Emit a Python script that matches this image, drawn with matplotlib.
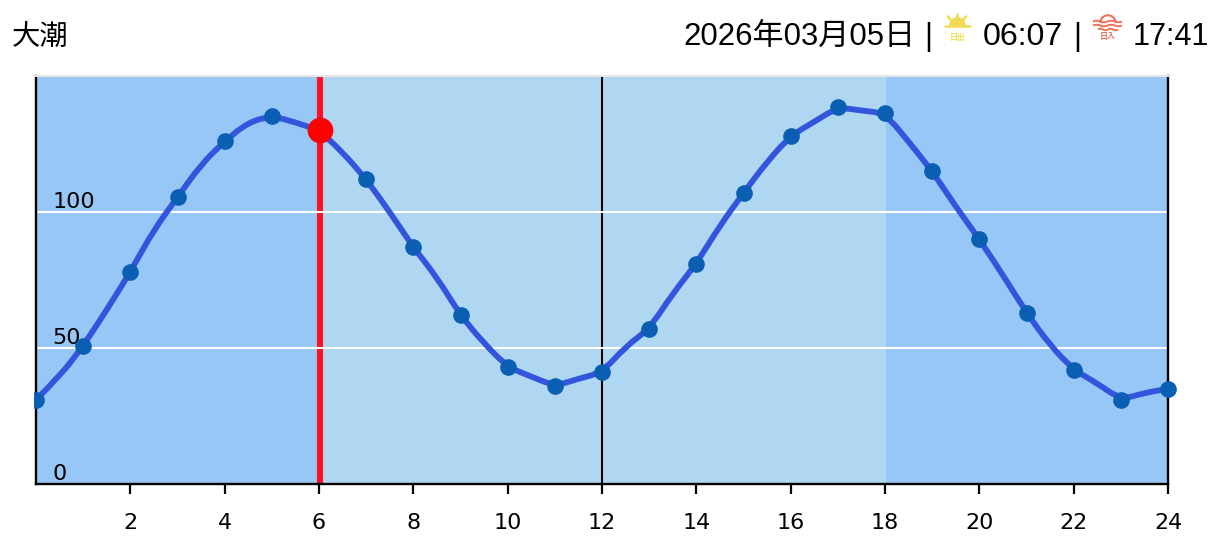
#!/usr/bin/env python3
# -*- coding: utf-8 -*-
"""
Tide chart for one day, with sunrise and sunset in the header
"""

import matplotlib as mpl
mpl.use("Agg")
import matplotlib.pyplot as plt
from matplotlib.patches import Rectangle, Wedge, Arc, PathPatch
from matplotlib.path import Path

# Data
hours = list(range(25))
tide_hourly = [31, 50.8, 78, 105.4, 126, 135.3, 130, 112, 87, 62, 43, 36, 41,
               57, 81, 107, 128, 138.5, 136.3, 115, 90, 63, 42, 31, 35]

# Curve as read every half hour
line_hours = [h / 2 for h in range(49)]
tide_line = [31, 39.5, 50.8, 64, 78, 93.5, 105.4, 117.5, 126, 133, 135.3, 133,
             130, 122, 112, 100, 87, 76, 62, 51.7, 43, 39.5, 36, 38.7, 41,
             50.5, 57, 70, 81, 95, 107, 118.5, 128, 133.2, 138.5, 137.3,
             136.3, 125.9, 115, 102, 90, 76.8, 63, 51, 42, 37, 31, 33.5, 35]

x_ticks = list(range(2, 25, 2))
y_ticks = [0, 50, 100]
y_grid = [50, 100]

now_hour = 6.02
now_level = 130
noon_hour = 12
sunrise_band = 6
sunset_band = 18.02

title = "大潮"
date_str = "2026年03月05日"
sunrise = "06:07"
sunset = "17:41"

# Colors
C_NIGHT = "#97C7F7"
C_DAY = "#AFD7F1"
C_LINE = "#3355DC"
C_DOT = "#0A5FB3"
C_NOW_LINE = "#FF1024"
C_NOW_DOT = "#FF0000"
C_SUN = "#F0DC50"
C_SET = "#F0705A"

W, H = 1221, 552
FONTS = ["Liberation Sans", "Noto Sans CJK JP", "DejaVu Sans"]

mpl.rcParams["font.family"] = ["DejaVu Sans"]

fig = plt.figure(figsize=(W / 100, H / 100), dpi=100, facecolor="white")
ax = fig.add_axes([36 / W, (H - 484) / H, (1168 - 36) / W, (484 - 76) / H])
ax.set_xlim(0, 24)
ax.set_ylim(0, 150)

# ------------------------------------------------------------------------------
#   Bands and lines
# ------------------------------------------------------------------------------

ax.axvspan(0, sunrise_band, color=C_NIGHT, lw=0, zorder=0)
ax.axvspan(sunrise_band, sunset_band, color=C_DAY, lw=0, zorder=0)
ax.axvspan(sunset_band, 24, color=C_NIGHT, lw=0, zorder=0)

ax.axvline(noon_hour, color="black", lw=1.5, zorder=1)
ax.axvline(now_hour, color=C_NOW_LINE, lw=4.4, zorder=1)

for y in y_grid:
    ax.axhline(y, color="white", lw=1.5, zorder=2)

# Smooth curve, with the half hour readings as control points
pts = list(zip(line_hours, tide_line))
verts = [pts[0]]
codes = [Path.MOVETO]
for i in range(1, len(pts) - 1):
    mid = ((pts[i][0] + pts[i + 1][0]) / 2, (pts[i][1] + pts[i + 1][1]) / 2)
    verts += [pts[i], mid]
    codes += [Path.CURVE3, Path.CURVE3]
verts.append(pts[-1])
codes.append(Path.LINETO)
ax.add_patch(PathPatch(Path(verts, codes), fill=False, edgecolor=C_LINE,
                       lw=4.2, zorder=3, joinstyle="round"))

dots, = ax.plot(hours, tide_hourly, "o", color=C_DOT, ms=12, mew=0, zorder=4)
dots.set_clip_path(Rectangle((-0.0015, -0.05), 1.03, 1.1,
                             transform=ax.transAxes))
ax.plot([now_hour], [now_level], "o", color=C_NOW_DOT, ms=18.5, mew=0, zorder=5)

for y in y_ticks:
    ax.annotate(str(y), (0, y), xytext=(12, 2.8),
                textcoords="offset points", fontsize=16, color="black",
                ha="left", va="baseline", zorder=3)

# ------------------------------------------------------------------------------
#   Axes make-up
# ------------------------------------------------------------------------------

ax.set_xticks(x_ticks)
ax.set_yticks([])
ax.tick_params(axis="x", length=7.5, width=1.6, pad=13.5, labelsize=16)
for side in ["left", "right", "bottom"]:
    ax.spines[side].set_linewidth(1.7)
ax.spines["top"].set_linewidth(1.5)
ax.spines["top"].set_color("#E6E6E6")

# ------------------------------------------------------------------------------
#   Header, in pixel coordinates
# ------------------------------------------------------------------------------

hd = fig.add_axes([0, 0, 1, 1], facecolor="none", zorder=10)
hd.set_xlim(0, W)
hd.set_ylim(H, 0)
hd.axis("off")


def header_text(x, s, size):
    hd.text(x, 45, s, fontsize=size, family=FONTS, color="black",
            ha="left", va="baseline")


header_text(11.5, title, 20.4)
header_text(683, date_str, 22.4)
header_text(924, "|", 22.6)
header_text(983, sunrise, 23.1)
header_text(1073, "|", 22.6)
header_text(1133, sunset, 22)

# Sunrise icon
hd.add_patch(Wedge((957.5, 25.5), 8.5, 180, 360, color=C_SUN, lw=0))
hd.plot([945, 970], [26, 26], color=C_SUN, lw=1.8, solid_capstyle="round")
for ray in [[(957, 13.5), (957, 17)], [(948, 16.5), (950.5, 19.5)],
            [(966, 16.5), (963.5, 19.5)]]:
    hd.plot(*zip(*ray), color=C_SUN, lw=1.8, solid_capstyle="round")
hd.text(957.5, 38, "日出", fontsize=5.8, family=FONTS, color=C_SUN,
        ha="center", va="center", weight="bold")

# Sunset icon
hd.add_patch(Arc((1108, 23), 15.5, 15.5, theta1=180, theta2=360, color=C_SET,
                 lw=1.5))
for y, x0, x1 in [(21.5, 1093, 1122), (25.5, 1093, 1122), (29.5, 1098, 1118)]:
    d = (x1 - x0) / 8
    wave = [(x0, y), (x0 + d, y - 1.8), (x0 + 2 * d, y), (x0 + 3 * d, y + 1.8),
            (x0 + 4 * d, y), (x0 + 5 * d, y - 1.8), (x0 + 6 * d, y),
            (x0 + 7 * d, y + 1.8), (x1, y)]
    hd.add_patch(PathPatch(Path(wave, [Path.MOVETO] + [Path.CURVE3] * 8),
                           fill=False, edgecolor=C_SET, lw=1.4))
hd.text(1108, 37.5, "日入", fontsize=5.8, family=FONTS, color=C_SET,
        ha="center", va="center", weight="bold")

fig.savefig("out.png", dpi=100)
